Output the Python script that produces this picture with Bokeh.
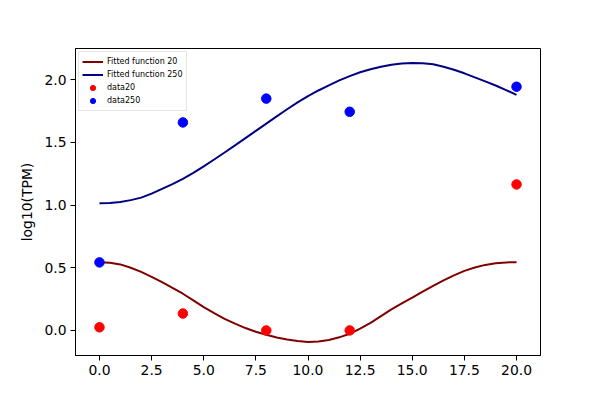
from bokeh.plotting import figure
from bokeh.models import FixedTicker, PrintfTickFormatter, Range1d, Legend, LegendItem
from bokeh.embed import file_html
from bokeh.resources import INLINE

# Fitted curves (every 0.5)
fit_x = [0, 0.5, 1, 1.5, 2, 2.5, 3, 3.5, 4, 4.5, 5, 5.5, 6, 6.5, 7, 7.5, 8, 8.5, 9, 9.5,
         10, 10.5, 11, 11.5, 12, 12.5, 13, 13.5, 14, 14.5, 15, 15.5, 16, 16.5, 17, 17.5,
         18, 18.5, 19, 19.5, 20]
fit20 = [0.545, 0.540, 0.527, 0.50, 0.467, 0.428, 0.385, 0.34, 0.293, 0.24, 0.186, 0.138,
         0.093, 0.054, 0.019, -0.01, -0.035, -0.056, -0.072, -0.085, -0.093, -0.088,
         -0.077, -0.055, -0.027, 0.015, 0.06, 0.114, 0.168, 0.216, 0.262, 0.309, 0.355,
         0.40, 0.44, 0.475, 0.502, 0.523, 0.537, 0.543, 0.545]
fit250 = [1.015, 1.017, 1.025, 1.04, 1.06, 1.092, 1.13, 1.168, 1.21, 1.258, 1.31, 1.364,
          1.42, 1.477, 1.535, 1.593, 1.65, 1.708, 1.765, 1.82, 1.87, 1.915, 1.955, 1.995,
          2.03, 2.06, 2.085, 2.105, 2.12, 2.13, 2.135, 2.133, 2.125, 2.105, 2.08, 2.052,
          2.02, 1.988, 1.955, 1.918, 1.88]

# Data points
data_x = [0, 4, 8, 12, 20]
data20 = [0.025, 0.135, 0.0, 0.0, 1.165]
data250 = [0.543, 1.66, 1.85, 1.745, 1.945]

x_ticks = [0, 2.5, 5, 7.5, 10, 12.5, 15, 17.5, 20]
y_ticks = [0, 0.5, 1.0, 1.5, 2.0]

FONT = "DejaVu Sans"

p = figure(width=584, height=384, output_backend="svg", toolbar_location=None,
           x_range=Range1d(-1.15, 21.15), y_range=Range1d(-0.2, 2.25),
           min_border_left=75, min_border_right=44, min_border_top=48, min_border_bottom=29)
p.background_fill_color = "white"
p.border_fill_color = "white"
p.outline_line_color = "black"
p.outline_line_width = 1
p.grid.visible = False

r1 = p.line(fit_x, fit20, line_color="#800000", line_width=2)
r2 = p.line(fit_x, fit250, line_color="#000080", line_width=2)
r3 = p.scatter(data_x, data20, marker="circle", size=9.5, fill_color="red", line_color="red")
r4 = p.scatter(data_x, data250, marker="circle", size=9.5, fill_color="blue", line_color="blue")

for ax, ticks in ((p.xaxis[0], x_ticks), (p.yaxis[0], y_ticks)):
    ax.ticker = FixedTicker(ticks=ticks)
    ax.formatter = PrintfTickFormatter(format="%.1f")
    ax.major_tick_out = 5
    ax.major_tick_in = 0
    ax.minor_tick_line_color = None
    ax.axis_line_color = "black"
    ax.major_tick_line_color = "black"
    ax.major_label_text_color = "black"
    ax.major_label_text_font = FONT
    ax.major_label_text_font_size = "13.9px"
    ax.major_label_standoff = 4

p.yaxis.axis_label = "log10(TPM)"
p.yaxis.axis_label_text_font = FONT
p.yaxis.axis_label_text_font_size = "13.9px"
p.yaxis.axis_label_text_font_style = "normal"
p.yaxis.axis_label_text_color = "black"
p.yaxis.axis_label_standoff = 6

legend = Legend(items=[
    LegendItem(label="Fitted function 20", renderers=[r1]),
    LegendItem(label="Fitted function 250", renderers=[r2]),
    LegendItem(label="data20", renderers=[r3]),
    LegendItem(label="data250", renderers=[r4]),
], location="top_left")
legend.margin = 3
legend.padding = 3
legend.spacing = 0
legend.glyph_width = 21
legend.glyph_height = 13
legend.label_height = 13
legend.label_standoff = 4
legend.label_text_font = FONT
legend.label_text_font_size = "8px"
legend.label_text_color = "black"
legend.border_line_color = "#cccccc"
legend.border_line_width = 1
legend.background_fill_color = "white"
legend.background_fill_alpha = 0.8
p.add_layout(legend)

open("out.html", "w").write(file_html(p, INLINE))
